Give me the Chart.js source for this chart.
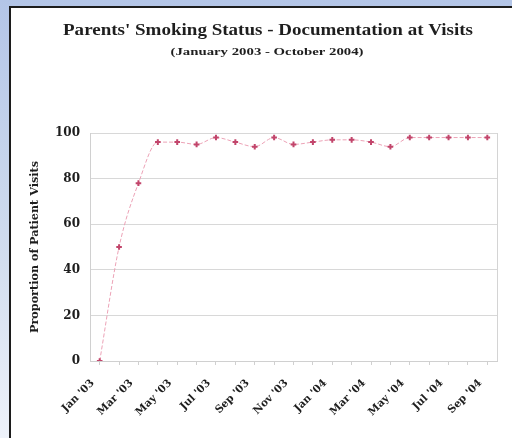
<!DOCTYPE html>
<html>
<head>
<meta charset="utf-8">
<script src="https://cdn.jsdelivr.net/npm/chart.js@4"></script>
<style>
  html, body { margin:0; padding:0; width:512px; height:438px; overflow:hidden; }
  body { background: linear-gradient(to bottom, #b3c5e7 0%, #d3deef 60%, #eef2fa 100%); position:relative; }
  #panel { position:absolute; left:9px; top:6px; width:520px; height:450px; background:#fff; border:2px solid #1c1c1c; box-sizing:border-box; }
  #wrap { position:absolute; left:0; top:0; width:512px; height:438px; }
</style>
</head>
<body>
<div id="panel"></div>
<div id="wrap"><canvas id="c" width="512" height="438"></canvas></div>
<script>
const categories = ["Jan '03","Feb '03","Mar '03","Apr '03","May '03","Jun '03","Jul '03","Aug '03","Sep '03","Oct '03","Nov '03","Dec '03",
                    "Jan '04","Feb '04","Mar '04","Apr '04","May '04","Jun '04","Jul '04","Aug '04","Sep '04"];
const visitsDocumented = [0, 50, 78, 96, 96, 95, 98, 96, 94, 98, 95, 96, 97, 97, 96, 94, 98, 98, 98, 98, 98];
const yTicks = [0, 20, 40, 60, 80, 100];
const titleText = "Parents' Smoking Status - Documentation at Visits";
const subtitleText = "(January 2003 - October 2004)";
const yTitle = "Proportion of Patient Visits";

const timesB = "'Liberation Serif', 'Times New Roman', serif";
const axisFont = "'DejaVu Serif', 'Liberation Serif', serif";
const ink = '#1e1e1e';

// Draws the heading lines (stretched Times-like bold, as in the source image)
const headings = {
  id: 'headings',
  afterDraw(chart) {
    const ctx = chart.ctx;
    const lines = [
      { text: titleText, size: 16, cx: 268, cy: 31, w: 410 },
      { text: subtitleText, size: 11, cx: 267, cy: 52, w: 193 }
    ];
    ctx.save();
    ctx.fillStyle = ink;
    ctx.textAlign = 'center';
    ctx.textBaseline = 'middle';
    for (const l of lines) {
      ctx.font = 'bold ' + l.size + 'px ' + timesB;
      const m = ctx.measureText(l.text).width;
      ctx.save();
      ctx.translate(l.cx, l.cy);
      ctx.scale(l.w / m, 1);
      ctx.fillText(l.text, 0, 0);
      ctx.restore();
    }
    // right edge of the plot frame
    const a = chart.chartArea;
    ctx.strokeStyle = '#d4d4d4';
    ctx.lineWidth = 1;
    ctx.beginPath();
    ctx.moveTo(Math.round(a.right) + 0.5, a.top);
    ctx.lineTo(Math.round(a.right) + 0.5, a.bottom);
    ctx.stroke();
    ctx.restore();
  }
};

new Chart(document.getElementById('c'), {
  type: 'line',
  data: {
    labels: categories,
    datasets: [{
      data: visitsDocumented,
      borderColor: '#eca2b6',
      borderWidth: 1,
      borderDash: [4, 2],
      cubicInterpolationMode: 'monotone',
      pointStyle: 'cross',
      pointRadius: 2.8,
      pointBorderWidth: 2,
      pointBorderColor: '#c2456b',
      pointBackgroundColor: '#c2456b'
    }]
  },
  options: {
    responsive: false,
    animation: false,
    layout: { padding: { left: 0, right: 15, top: 133, bottom: 0 } },
    plugins: {
      legend: { display: false },
      tooltip: { enabled: false },
      title: { display: false },
      subtitle: { display: false }
    },
    scales: {
      x: {
        type: 'category',
        offset: true,
        grid: { display: true, drawOnChartArea: false, drawTicks: true, tickLength: 4, color: '#d0d0d0' },
        border: { color: '#d0d0d0' },
        ticks: {
          autoSkip: false,
          maxRotation: 45, minRotation: 45,
          color: ink,
          font: { family: axisFont, size: 10.5, weight: 'bold' },
          padding: 12,
          labelOffset: -7,
          callback: function(v, i) { return i % 2 === 0 ? categories[i] : ''; }
        },
        afterFit(s) { s.height = 77; }
      },
      y: {
        min: 0, max: 100,
        afterBuildTicks(s) { s.ticks = yTicks.map(v => ({ value: v })); },
        grid: { color: '#d8d8d8', drawTicks: false },
        border: { color: '#d0d0d0' },
        ticks: {
          color: ink,
          font: { family: axisFont, size: 12, weight: 'bold' },
          padding: 10
        },
        title: {
          display: true, text: yTitle, color: ink,
          font: { family: axisFont, size: 11.2, weight: 'bold' },
          padding: { top: 28, bottom: 0 }
        },
        afterFit(s) { s.width = 90; }
      }
    }
  },
  plugins: [headings]
});
</script>
</body>
</html>
